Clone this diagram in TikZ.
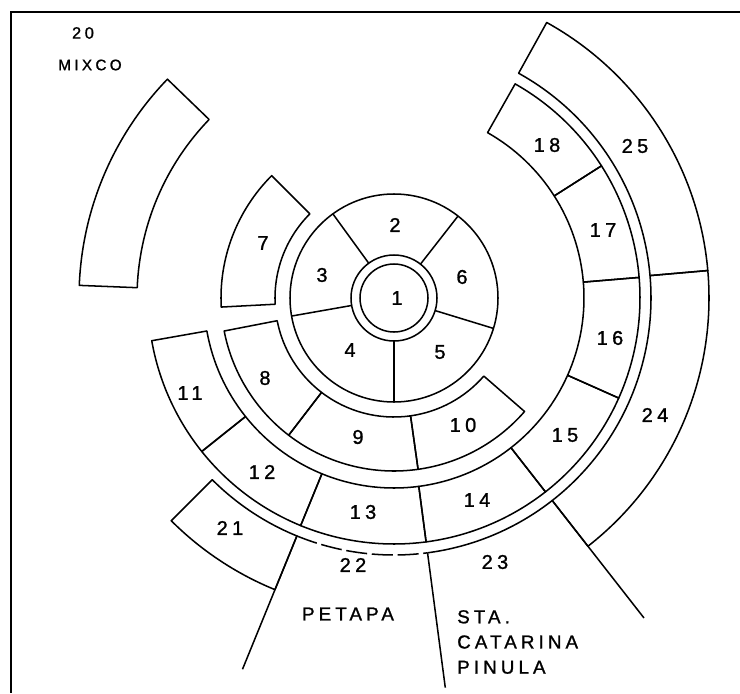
\documentclass[tikz,border=0pt]{standalone}
\usepackage{fontspec}
\setmainfont{Liberation Sans}[LetterSpace=22, FakeBold=1.2]

\begin{document}
\begin{tikzpicture}[
  x=0.03cm, y=0.03cm,
  zone/.style={line width=1.3pt, line join=round},
  num/.style={inner sep=0pt, font=\fontsize{17}{20}\selectfont},
  town/.style={inner sep=0pt, align=left, font=\fontsize{16}{21.5}\selectfont},
]
  \useasboundingbox (-394,-395) rectangle (346,298);
  \draw[line width=2pt] (346,286) -- (-383,286) -- (-383,-395);

  \draw[zone] (0,0) circle[radius=34];
  \draw[zone] (0,0) circle[radius=43];
  \draw[zone] (0,0) circle[radius=104];
  \foreach \a in {52,126,190,270,343}
    \draw[zone] (\a:43) -- (\a:104);

  \foreach \a/\b/\ri/\ro in {135/183/119/173, 191/232.5/119/173,
      232.5/278/119/173, 278/319/119/173,
      190/218.6/190/246, 218.6/247.7/190/246, 247.7/277.5/190/246,
      277.5/308/190/246, 308/336/190/246, 336/364.8/190/246,
      364.8/392.5/190/246, 392.5/420.5/190/246,
      136/177.7/257/315, 225/247.8/257/315, 308/365/257/315,
      365/421/257/315}
    \draw[zone] (\a:\ri) arc[start angle=\a, end angle=\b, radius=\ri]
      -- (\b:\ro) arc[start angle=\b, end angle=\a, radius=\ro] -- cycle;

  \draw[zone, dash pattern=on 18pt off 4pt] (247.8:257) arc[start angle=247.8, end angle=277.5, radius=257];
  \draw[zone] (277.5:257) arc[start angle=277.5, end angle=308, radius=257];

  \draw[zone] (247.8:257) -- (247.8:401);
  \draw[zone] (277.5:257) -- (277.5:393);
  \draw[zone] (308:257) -- (308:406);

  \node[num] (z1) at (3,0) {1};
  \node[num] (z2) at (1,73) {2};
  \node[num] (z3) at (-72,23) {3};
  \node[num] (z4) at (-44,-52) {4};
  \node[num] (z5) at (46,-54) {5};
  \node[num] (z6) at (68,21) {6};
  \node[num] (z7) at (-131,55) {7};
  \node[num] (z8) at (-129,-80) {8};
  \node[num] (z9) at (-36,-139) {9};
  \node[num] (z10) at (69,-127) {10};
  \node[num] (z11) at (-204,-95) {11};
  \node[num] (z12) at (-132,-174) {12};
  \node[num] (z13) at (-31,-214) {13};
  \node[num] (z14) at (83,-202) {14};
  \node[num] (z15) at (171,-137) {15};
  \node[num] (z16) at (216,-40) {16};
  \node[num] (z17) at (209,68) {17};
  \node[num] (z18) at (153,153) {18};
  \node[num] (z21) at (-164,-230) {21};
  \node[num] (z22) at (-41,-267) {22};
  \node[num] (z23) at (101,-264) {23};
  \node[num] (z24) at (261,-117) {24};
  \node[num] (z25) at (241,152) {25};
  \node[num, font=\fontsize{14}{16}\selectfont] (z20) at (-311,265) {20};

  \node[town, font=\fontsize{13}{15}\selectfont] (mixco) at (-304,233) {MIXCO};
  \node[town] (petapa) at (-46,-316) {PETAPA};
  \node[town, anchor=west] (pinula) at (63,-344) {STA.\\CATARINA\\PINULA};
\end{tikzpicture}
\end{document}
